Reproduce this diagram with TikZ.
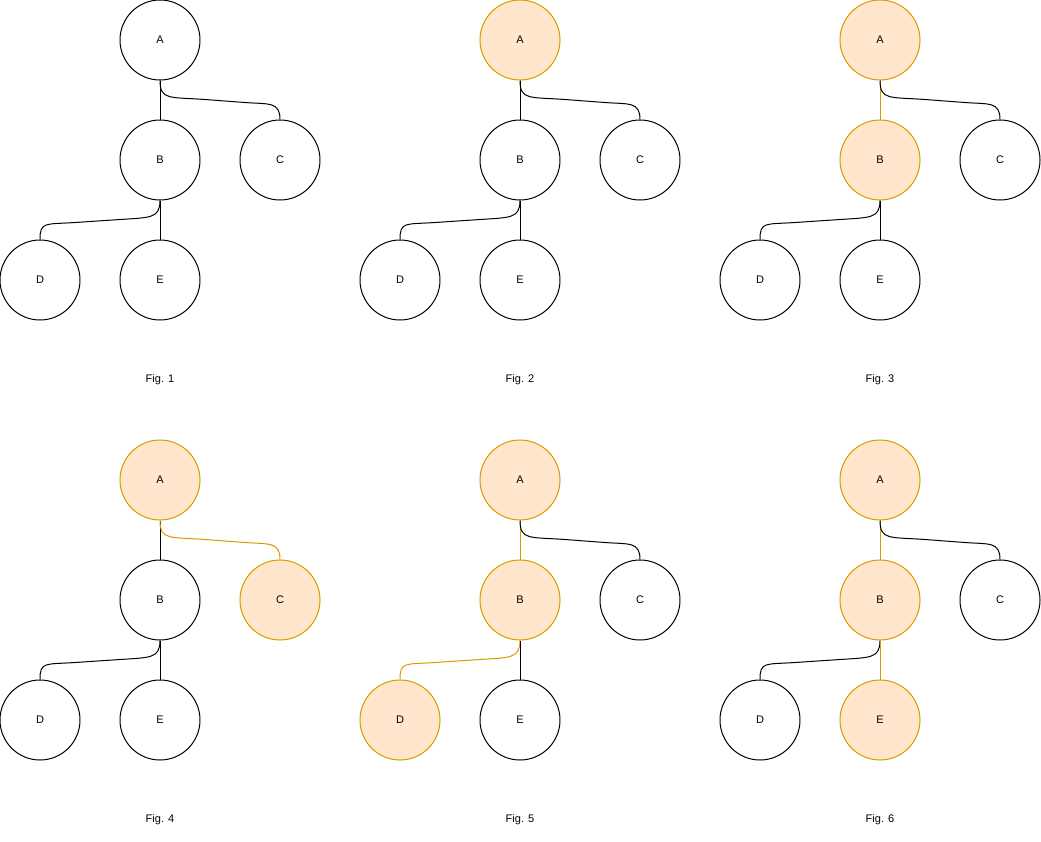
\documentclass[tikz,border=0pt]{standalone}
\usepackage{fontspec}
\setmainfont{Liberation Sans}
\definecolor{ln0}{RGB}{0,0,0}
\definecolor{ln1}{HTML}{D79B00}
\definecolor{bg0}{RGB}{255,255,255}
\definecolor{bg1}{HTML}{FFE6CC}
\tikzset{
    tnode/.style={circle, draw, line width=1pt, minimum size=80pt, inner sep=0pt, font=\fontsize{11}{13}\selectfont},
    figlabel/.style={font=\fontsize{11}{13}\selectfont},
    wire/.style={line width=1pt}
}

\begin{document}
\begin{tikzpicture}[x=1pt, y=-1pt]
\useasboundingbox (0,0) rectangle (1041,841);

% figure number / offset / highlight of A B C D E
\foreach \n/\x/\y/\a/\b/\c/\d/\e in {1/0/0/0/0/0/0/0, 2/360/0/1/0/0/0/0, 3/720/0/1/1/0/0/0,
                                      4/0/440/1/0/1/0/0, 5/360/440/1/1/0/1/0, 6/720/440/1/1/0/0/1}{
  \begin{scope}[shift={(\x,\y)}]
    \node[tnode, draw=ln\a, fill=bg\a] (a\n) at (160,40) {A};
    \node[tnode, draw=ln\b, fill=bg\b] (b\n) at (160,160) {B};
    \node[tnode, draw=ln\c, fill=bg\c] (c\n) at (280,160) {C};
    \node[tnode, draw=ln\d, fill=bg\d] (d\n) at (40,280) {D};
    \node[tnode, draw=ln\e, fill=bg\e] (e\n) at (160,280) {E};
    \node[figlabel] (fig\n) at (160,380) {Fig. \n};
    %
    \draw[wire, draw=ln\b] (a\n) -- (b\n);
    \draw[wire, draw=ln\c] (a\n.south) .. controls +(0,20) and +(-35,-2.6) .. ++(45,19)
        -- ++(40,3) .. controls +(24,1.8) and +(0,-18) .. (c\n.north);
    \draw[wire, draw=ln\d] (b\n.south) .. controls +(0,18) and +(30,-2) .. ++(-40,19)
        -- ++(-45,3) .. controls +(-30,2) and +(0,-18) .. (d\n.north);
    \draw[wire, draw=ln\e] (b\n) -- (e\n);
  \end{scope}
}

\end{tikzpicture}
\end{document}
